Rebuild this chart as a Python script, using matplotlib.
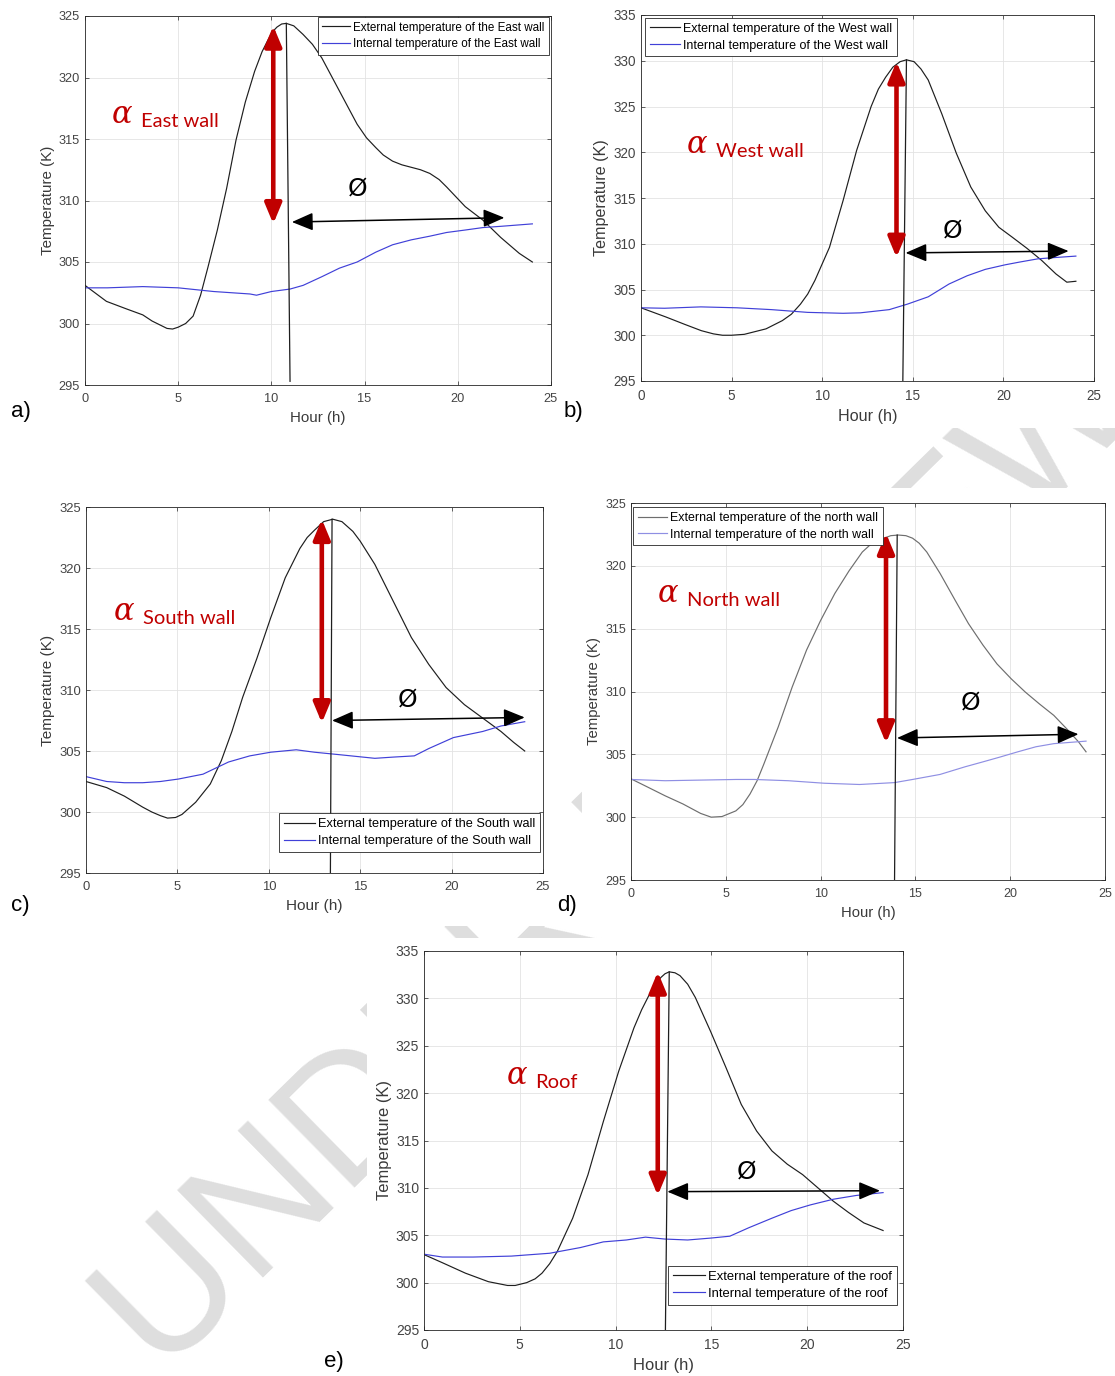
import matplotlib
matplotlib.use("Agg")
import matplotlib.pyplot as plt
from matplotlib.patches import Rectangle

plt.rcParams['font.family'] = ['Liberation Sans', 'DejaVu Sans']

W, H = 1115, 1376
RED = '#C00000'

# ---- data (hour, kelvin) ----
hours_ticks = [0, 5, 10, 15, 20, 25]

# a) East wall
east_ext_x = [0, 1.15, 2.2, 3.1, 3.6, 4.0, 4.4, 4.7, 5.0, 5.4, 5.8, 6.2, 6.6, 7.1, 7.6, 8.1, 8.6,
              9.1, 9.5, 9.8, 10.05, 10.3, 10.55, 10.8, 11.2, 11.7, 12.2, 12.7, 13.65, 14.6, 15.1,
              15.6, 16.0, 16.5, 17.0, 17.5, 18.0, 18.5, 19.0, 19.4, 20.4, 21.35, 22.3, 23.3, 24]
east_ext_y = [303.1, 301.8, 301.2, 300.7, 300.2, 299.9, 299.6, 299.55, 299.7, 300.0, 300.6, 302.3,
              304.6, 307.6, 311.0, 314.9, 318.0, 320.5, 322.1, 323.0, 323.7, 324.1, 324.35, 324.4,
              324.2, 323.5, 322.7, 321.6, 318.9, 316.2, 315.1, 314.3, 313.7, 313.2, 312.9, 312.7,
              312.5, 312.2, 311.7, 311.1, 309.5, 308.4, 307.0, 305.7, 305.0]
east_int_x = [0, 1.2, 3.1, 5.0, 6.9, 8.85, 9.2, 10.0, 11.0, 11.7, 12.7, 13.65, 14.6, 15.6, 16.5,
              17.5, 18.5, 19.4, 20.4, 21.35, 22.3, 24]
east_int_y = [302.9, 302.9, 303.0, 302.9, 302.6, 302.4, 302.3, 302.6, 302.8, 303.1, 303.8, 304.5,
              305.0, 305.8, 306.4, 306.8, 307.1, 307.4, 307.6, 307.8, 307.9, 308.1]
east_peak_x = [10.8, 11.0]
east_peak_y = [324.4, 295.3]

# b) West wall
west_ext_x = [0, 1.37, 2.4, 3.33, 4.0, 4.5, 5.0, 5.7, 6.9, 7.8, 8.3, 8.8, 9.2, 9.6, 10.4, 11.15,
              11.9, 12.7, 13.1, 13.5, 13.9, 14.3, 14.65, 15.07, 15.45, 15.85, 16.6, 17.4, 18.2,
              19.0, 19.75, 20.5, 21.3, 22.1, 22.9, 23.5, 24]
west_ext_y = [303.0, 302.0, 301.2, 300.5, 300.15, 300.0, 300.0, 300.1, 300.7, 301.6, 302.3, 303.4,
              304.5, 306.0, 309.6, 314.7, 320.2, 325.0, 326.9, 328.2, 329.3, 329.9, 330.1, 329.9,
              329.1, 327.9, 324.2, 319.9, 316.2, 313.6, 311.8, 310.7, 309.5, 308.2, 306.7, 305.8,
              305.9]
west_int_x = [0, 1.3, 3.3, 5.3, 7.2, 9.2, 11.15, 12.1, 13.7, 14.7, 15.85, 17.0, 18.0, 19.0, 20.1,
              20.9, 21.9, 22.9, 24]
west_int_y = [303.0, 302.95, 303.1, 303.0, 302.8, 302.5, 302.4, 302.45, 302.8, 303.4, 304.2,
              305.6, 306.5, 307.2, 307.7, 308.0, 308.35, 308.5, 308.65]
west_peak_x = [14.65, 14.45]
west_peak_y = [330.1, 295.0]

# c) South wall
south_ext_x = [0, 1.13, 2.1, 3.1, 3.6, 4.07, 4.46, 4.9, 5.25, 6.0, 6.8, 7.4, 7.98, 8.57, 9.35,
               10.1, 10.9, 11.7, 12.1, 12.5, 13.0, 13.5, 14.0, 14.6, 15.0, 15.8, 16.8, 17.8, 18.75,
               19.7, 20.7, 21.7, 22.7, 23.4, 24]
south_ext_y = [302.5, 302.0, 301.3, 300.4, 300.0, 299.7, 299.5, 299.55, 299.8, 300.8, 302.3, 304.2,
               306.6, 309.4, 312.6, 315.9, 319.2, 321.6, 322.5, 323.1, 323.8, 324.0, 323.8, 323.0,
               322.2, 320.3, 317.3, 314.3, 312.1, 310.2, 308.8, 307.7, 306.6, 305.7, 305.0]
south_int_x = [0, 1.13, 2.1, 3.1, 4.07, 5.05, 6.4, 7.8, 8.96, 10.1, 11.5, 12.5, 13.85, 15.8, 16.8,
               17.96, 18.75, 20.1, 21.7, 22.7, 24]
south_int_y = [302.9, 302.5, 302.4, 302.4, 302.5, 302.7, 303.1, 304.1, 304.6, 304.9, 305.1, 304.9,
               304.7, 304.4, 304.5, 304.6, 305.2, 306.1, 306.6, 307.05, 307.4]
south_peak_x = [13.46, 13.37]
south_peak_y = [324.0, 295.0]

# d) North wall
north_ext_x = [0, 0.87, 1.8, 2.74, 3.67, 4.23, 4.8, 5.53, 5.9, 6.28, 6.65, 7.0, 7.77, 8.5, 9.26,
               10.0, 10.75, 11.5, 12.2, 12.6, 13.0, 13.7, 14.1, 14.5, 14.85, 15.2, 15.6, 16.3,
               17.1, 17.8, 18.56, 19.3, 20.06, 20.8, 21.55, 22.3, 23.0, 23.6, 24]
north_ext_y = [303.05, 302.4, 301.7, 301.05, 300.3, 300.0, 300.05, 300.5, 301.0, 301.85, 302.9,
               304.2, 307.2, 310.35, 313.3, 315.65, 317.8, 319.6, 321.1, 321.65, 322.0, 322.4,
               322.45, 322.4, 322.2, 321.8, 321.1, 319.4, 317.25, 315.4, 313.7, 312.2, 311.0,
               309.95, 309.0, 308.1, 307.0, 306.0, 305.2]
north_int_x = [0, 1.8, 5.53, 6.5, 8.3, 10.2, 12.05, 13.9, 14.85, 16.3, 17.6, 18.56, 19.5, 20.4,
               21.35, 22.3, 24]
north_int_y = [303.0, 302.9, 303.0, 303.0, 302.9, 302.7, 302.6, 302.75, 303.0, 303.4, 304.0,
               304.4, 304.8, 305.2, 305.6, 305.85, 306.05]
north_peak_x = [14.04, 13.9]
north_peak_y = [322.45, 295.0]

# e) Roof
roof_ext_x = [0, 0.96, 2.16, 3.36, 4.36, 4.76, 5.36, 5.8, 6.16, 6.56, 6.96, 7.76, 8.56, 9.36,
              10.16, 10.96, 11.36, 11.76, 12.1, 12.36, 12.58, 12.8, 13.1, 13.36, 13.76, 14.16,
              14.96, 15.76, 16.56, 17.36, 18.16, 18.96, 19.76, 20.56, 21.36, 22.16, 22.96, 23.96]
roof_ext_y = [302.96, 302.1, 301.0, 300.1, 299.7, 299.7, 300.0, 300.4, 301.0, 302.0, 303.3,
              306.8, 311.4, 317.0, 322.3, 326.9, 328.8, 330.4, 331.5, 332.2, 332.6, 332.8, 332.7,
              332.4, 331.5, 330.1, 326.5, 322.7, 318.8, 316.0, 313.9, 312.5, 311.4, 310.0, 308.6,
              307.4, 306.3, 305.5]
roof_int_x = [0, 0.96, 2.56, 4.56, 6.56, 8.16, 9.36, 10.56, 11.56, 12.56, 13.76, 14.96, 15.96,
              16.96, 18.16, 19.16, 20.16, 21.36, 22.56, 23.96]
roof_int_y = [303.0, 302.7, 302.7, 302.8, 303.1, 303.7, 304.3, 304.5, 304.8, 304.6, 304.5, 304.7,
              304.9, 305.8, 306.8, 307.6, 308.2, 308.8, 309.2, 309.5]
roof_peak_x = [12.8, 12.6]
roof_peak_y = [332.8, 295.0]

# amplitude arrows (x, low, high) and lag arrows (x0, y0, x1, y1)
amp_arrows = {'a': (10.1, 308.1, 324.2), 'b': (14.1, 308.5, 329.9), 'c': (12.9, 307.3, 324.0),
              'd': (13.45, 305.9, 322.6), 'e': (12.2, 309.2, 332.8)}
lag_arrows = {'a': (11.1, 308.25, 22.5, 308.6), 'b': (14.6, 309.0, 23.6, 309.2),
              'c': (13.46, 307.5, 24.0, 307.75), 'd': (14.03, 306.3, 23.6, 306.6),
              'e': (12.7, 309.6, 23.8, 309.7)}
phi_pos = {'a': (14.6, 311.0), 'b': (17.2, 311.5), 'c': (17.6, 309.2), 'd': (17.9, 309.1),
           'e': (16.86, 311.7)}
alpha_pos = {'a': (2.0, 317.0), 'b': (3.1, 320.9), 'c': (2.1, 316.4), 'd': (1.95, 317.8),
             'e': (4.85, 321.9)}
alpha_names = {'a': 'East wall', 'b': 'West wall', 'c': 'South wall', 'd': 'North wall',
               'e': 'Roof'}
legend_ext = {'a': 'External temperature of the East wall', 'b': 'External temperature of the West wall',
              'c': 'External temperature of the South wall', 'd': 'External temperature of the north wall',
              'e': 'External temperature of the roof'}
legend_int = {'a': 'Internal temperature of the East wall', 'b': 'Internal temperature of the West wall',
              'c': 'Internal temperature of the South wall', 'd': 'Internal temperature of the north wall',
              'e': 'Internal temperature of the roof'}
y_limits = {'a': (295, 325), 'b': (295, 335), 'c': (295, 325), 'd': (295, 325), 'e': (295, 335)}

series = {
    'a': (east_ext_x, east_ext_y, east_int_x, east_int_y, east_peak_x, east_peak_y),
    'b': (west_ext_x, west_ext_y, west_int_x, west_int_y, west_peak_x, west_peak_y),
    'c': (south_ext_x, south_ext_y, south_int_x, south_int_y, south_peak_x, south_peak_y),
    'd': (north_ext_x, north_ext_y, north_int_x, north_int_y, north_peak_x, north_peak_y),
    'e': (roof_ext_x, roof_ext_y, roof_int_x, roof_int_y, roof_peak_x, roof_peak_y),
}

# ---- layout in pixels: left, right, top, bottom ----
boxes = {'a': (85, 551, 16, 385), 'b': (641, 1094, 15, 381), 'c': (86, 543, 507, 873),
         'd': (631, 1105, 503, 880), 'e': (424, 903, 951, 1330)}
legend_loc = {'a': ('upper right', (0.996, 0.997)), 'b': ('upper left', (0.009, 0.992)),
              'c': ('lower right', (0.993, 0.057)), 'd': ('upper left', (0.004, 0.989)),
              'e': ('lower right', (0.987, 0.066))}
legend_fs = {'a': 8.4, 'b': 9.0, 'c': 9.2, 'd': 8.9, 'e': 9.4}
font_scale = {'a': 1.15, 'b': 1.22, 'c': 1.17, 'd': 1.13, 'e': 1.25}
panel_bg = {'a': (0, 560, 0, 432), 'b': (585, 1115, 0, 428), 'c': (25, 556, 488, 926),
            'd': (582, 1115, 488, 926), 'e': (367, 912, 938, 1376)}
panel_lbl = {'a': (21, 411), 'b': (573, 411), 'c': (20, 906), 'd': (567, 906), 'e': (334, 1361)}

fig = plt.figure(figsize=(W / 100, H / 100), dpi=100)

# watermark behind the panels
fig.text(655 / W, 1 - 893 / H, 'UNDER REVIEW', rotation=44.5, rotation_mode='anchor',
         ha='center', va='baseline', fontsize=128, color='#dedede', zorder=-3)
for k, (x0, x1, y0, y1) in panel_bg.items():
    fig.patches.append(Rectangle((x0 / W, 1 - y1 / H), (x1 - x0) / W, (y1 - y0) / H,
                                 transform=fig.transFigure, facecolor='white',
                                 edgecolor='none', zorder=-2))

for k in ['a', 'b', 'c', 'd', 'e']:
    l, r, t, b = boxes[k]
    fs = font_scale[k]
    ax = fig.add_axes([l / W, 1 - b / H, (r - l) / W, (b - t) / H])
    ex, ey, ix, iy, px, py = series[k]
    if k == 'd':
        c_ext, c_int = '#6e6e6e', '#8f8fe3'
    else:
        c_ext, c_int = '#1e1e1e', '#4040d8'
    ax.plot(ex, ey, color=c_ext, lw=0.85, label=legend_ext[k])
    ax.plot(ix, iy, color=c_int, lw=0.85, label=legend_int[k])
    ax.plot(px, py, color='#1e1e1e', lw=0.9)

    ax.set_xlim(0, 25)
    ax.set_ylim(*y_limits[k])
    ax.set_xticks(hours_ticks)
    ax.set_yticks(range(y_limits[k][0], y_limits[k][1] + 1, 5))
    ax.grid(True, color='#e3e3e3', lw=0.6)
    ax.set_axisbelow(True)
    ax.tick_params(direction='in', top=True, right=True, length=3, width=0.5,
                   color='#262626', labelcolor='#444444', labelsize=8 * fs, pad=3.5)
    ax.tick_params(axis='x', pad=6)
    for s in ax.spines.values():
        s.set_color('#262626')
        s.set_linewidth(0.6)
    ax.set_xlabel('Hour (h)', fontsize=9.5 * fs, color='#3a3a3a', labelpad=4)
    ax.set_ylabel('Temperature (K)', fontsize=9.5 * fs, color='#3a3a3a', labelpad=3)

    loc, anchor = legend_loc[k]
    leg = ax.legend(loc=loc, bbox_to_anchor=anchor, borderaxespad=0, fontsize=legend_fs[k],
                    fancybox=False, framealpha=1, edgecolor='#262626', handlelength=2.4,
                    handletextpad=0.25, borderpad=0.38, labelspacing=0.4)
    leg.get_frame().set_linewidth(0.6)

    # amplitude arrow
    xa, ylo, yhi = amp_arrows[k]
    ax.annotate('', xy=(xa, yhi), xytext=(xa, ylo),
                arrowprops=dict(arrowstyle='<|-|>,head_length=1.2,head_width=0.5',
                                color=RED, lw=3.3, shrinkA=0, shrinkB=0, mutation_scale=10))
    # time-lag arrow
    x0, y0, x1, y1 = lag_arrows[k]
    ax.annotate('', xy=(x1, y1), xytext=(x0, y0),
                arrowprops=dict(arrowstyle='<|-|>,head_length=1.3,head_width=0.55',
                                color='black', lw=1.1, shrinkA=0, shrinkB=0, mutation_scale=10))
    fx, fy = phi_pos[k]
    ax.text(fx, fy, '\u00d8', fontsize=18, ha='center', va='center', color='black',
            family=['DejaVu Sans'])
    axx, axy = alpha_pos[k]
    t_alpha = ax.text(axx, axy, '\u03b1', fontsize=22, style='italic', color=RED,
                      ha='center', va='center', family=['DejaVu Serif'])
    ax.annotate(alpha_names[k], xy=(1, 0), xycoords=t_alpha, xytext=(6, 0),
                textcoords='offset points', fontsize=14.5, color=RED, ha='left',
                va='bottom', family=['Lato', 'DejaVu Sans'])

    lx, ly = panel_lbl[k]
    fig.text(lx / W, 1 - ly / H, k + ')', fontsize=16, ha='center', va='center', color='black')

fig.savefig('out.png', dpi=100)
